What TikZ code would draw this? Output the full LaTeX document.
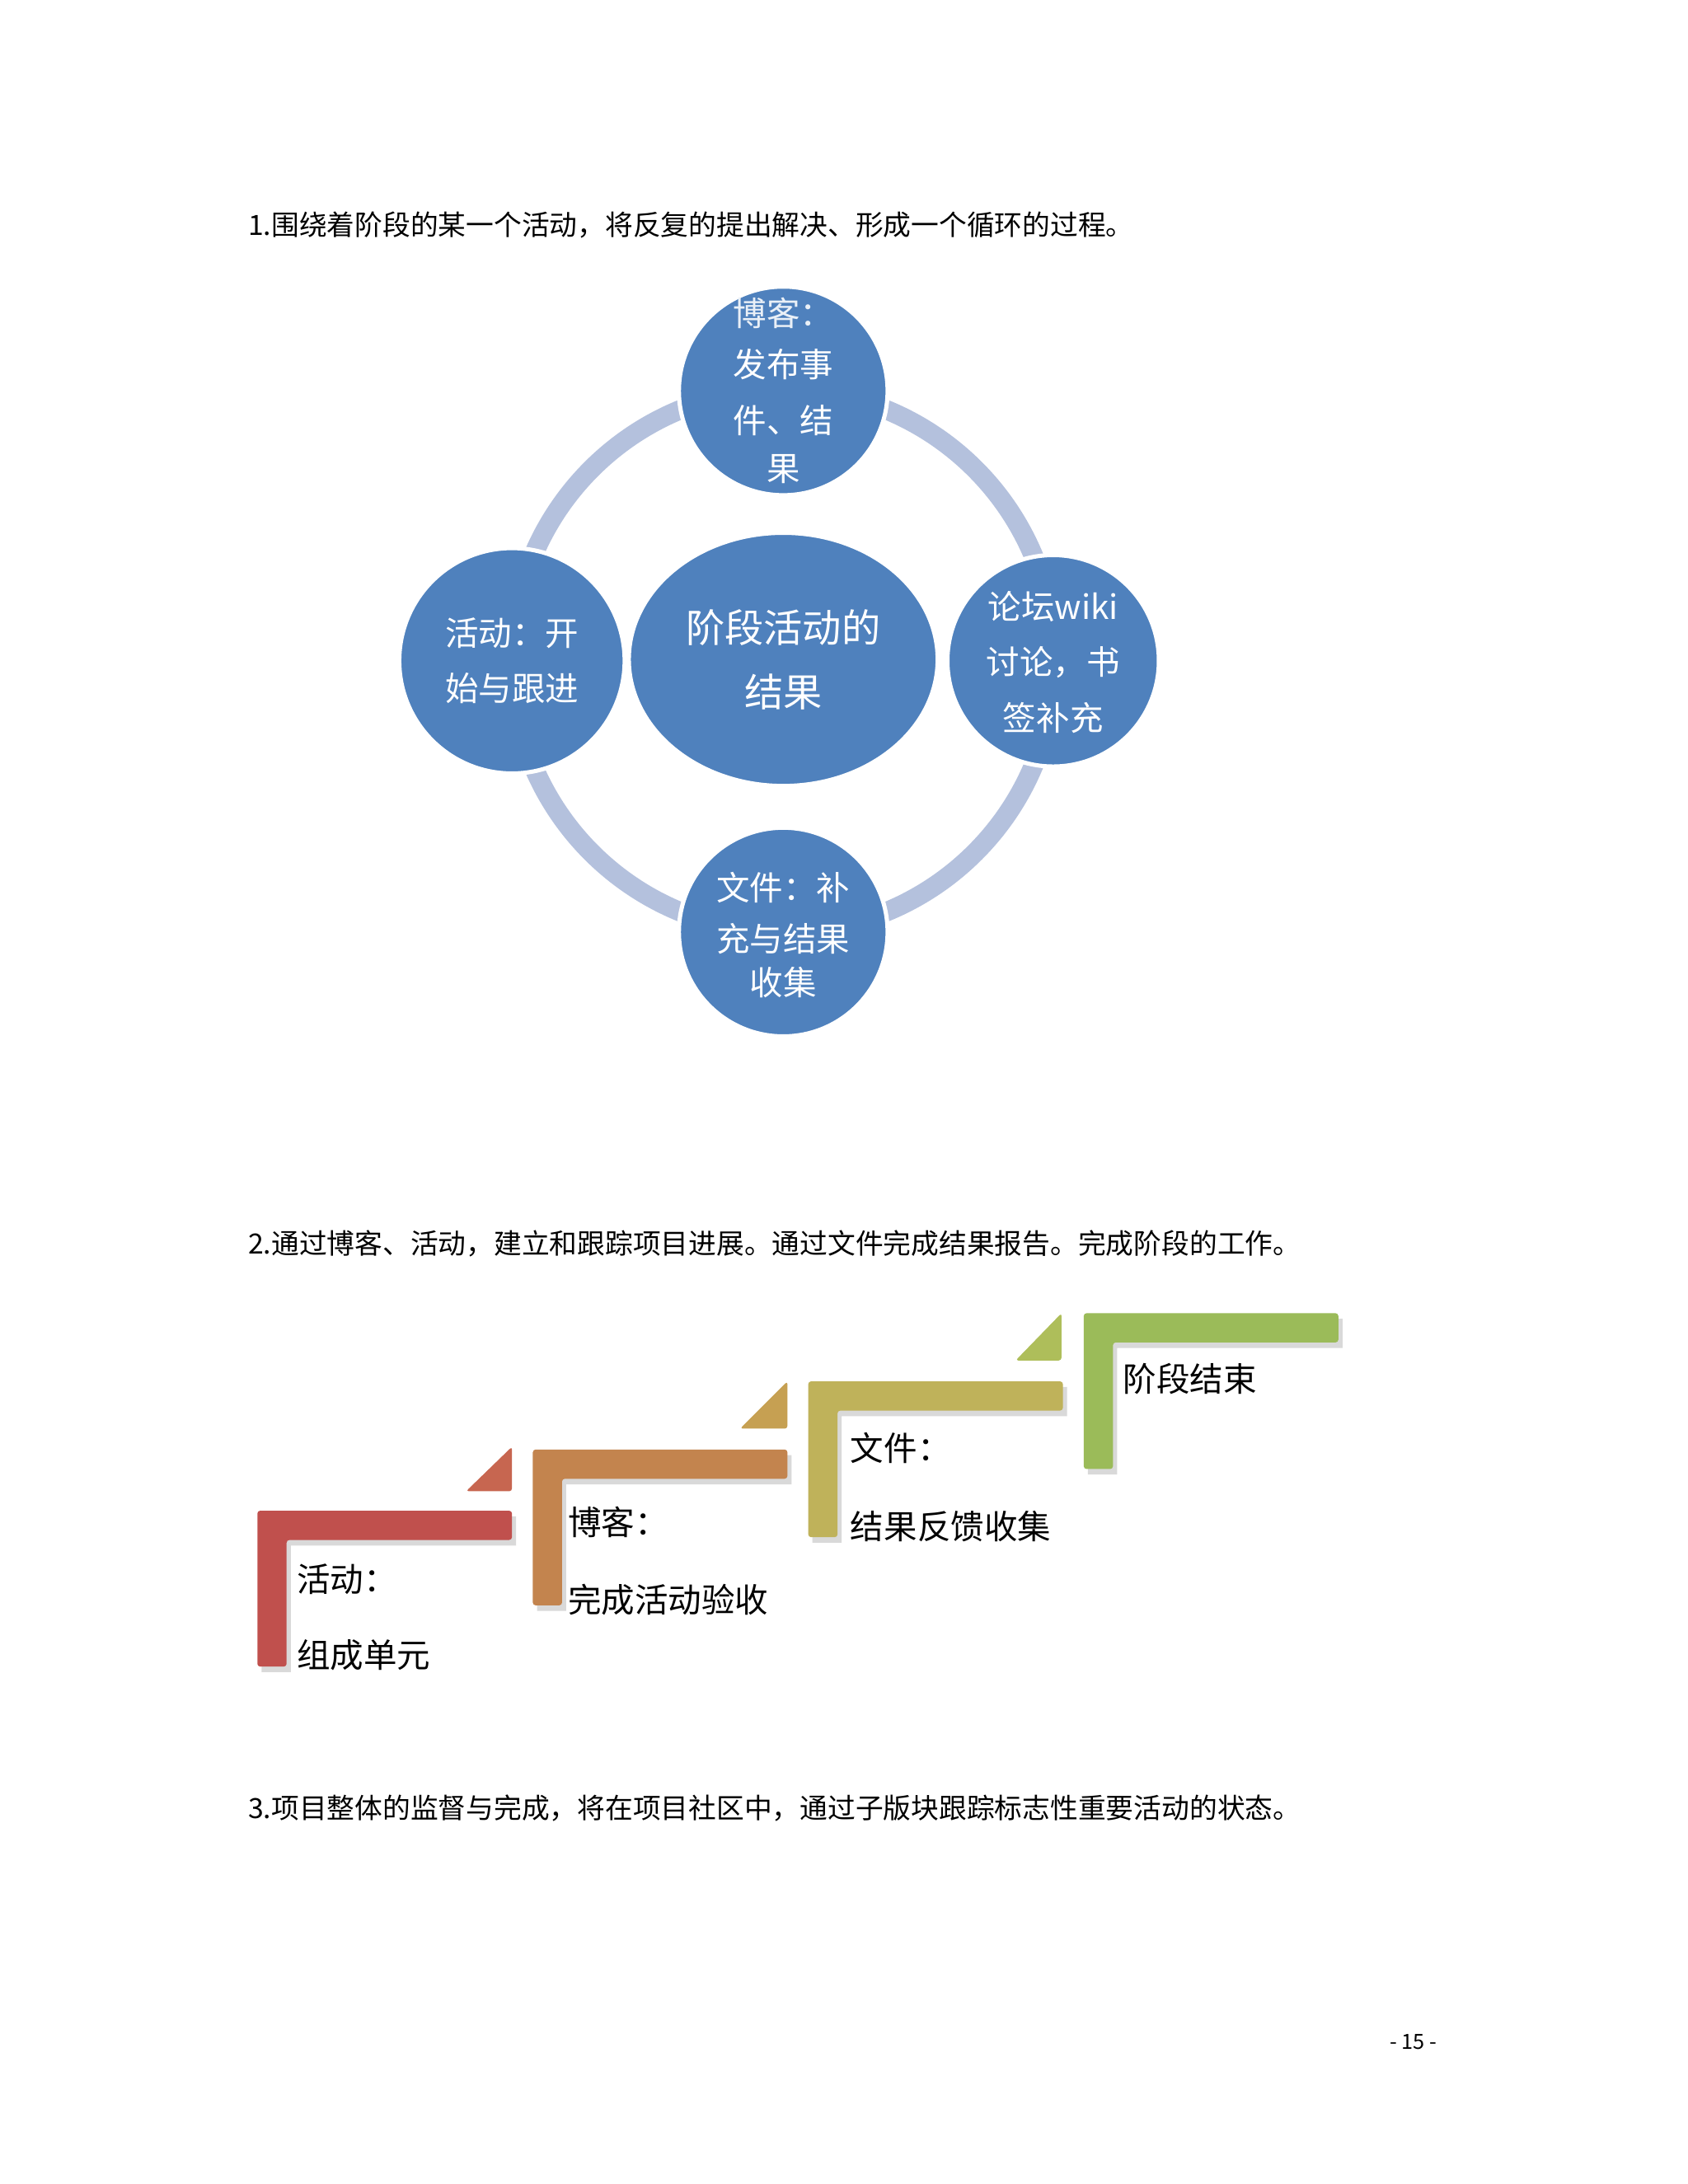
\documentclass[tikz,border=0pt]{standalone}
\usepackage{fontspec}
\usetikzlibrary{shapes.geometric}
\setmainfont{Noto Sans CJK SC}
\begin{document}
\begin{tikzpicture}[x=0.5pt,y=-0.5pt]
\definecolor{cblue}{HTML}{4F81BD}
\definecolor{cring}{HTML}{B4C1DD}
\definecolor{cred}{HTML}{C0504D}
\definecolor{cora}{HTML}{C3844E}
\definecolor{coli}{HTML}{BFB25A}
\definecolor{cgrn}{HTML}{9BBB59}
\definecolor{tred}{HTML}{C76650}
\definecolor{tora}{HTML}{C6A052}
\definecolor{toli}{HTML}{AEBE5A}
\tikzset{
 hdr/.style={anchor=west,inner sep=0pt,font=\fontsize{10}{12}\selectfont},
 bub/.style={circle,fill=cblue,draw=white,line width=1.5pt,minimum size=#1,inner sep=0pt,text=white,align=center},
 btxt/.style={text=white,align=center,font=\fontsize{12}{20}\selectfont,inner sep=0pt},
 stxt/.style={anchor=west,inner sep=0pt,font=\fontsize{12}{14}\selectfont}
}
\useasboundingbox (0,0) rectangle (1213,1570);
\fill[white] (0,0) rectangle (1213,1570);
\node[hdr] (h1) at (178,162) {1.围绕着阶段的某一个活动，将反复的提出解决、形成一个循环的过程。};
% ring
\draw[cring,line width=7pt] (563,475) circle[radius=195];
\node[ellipse,fill=cblue,draw=white,line width=1.5pt,minimum width=111pt,minimum height=91pt,inner sep=0pt] (c) at (563,474) {};
\node[bub=75pt] (t) at (563,281) {};
\node[bub=81pt] (l) at (368,475) {};
\node[bub=76pt] (r) at (757,475) {};
\node[bub=75pt] (b) at (563,670) {};
\node[btxt,font=\fontsize{14}{23}\selectfont] at (c) {阶段活动的\\结果};
\node[btxt] at (563,225) {\textcolor{white!88!cblue}{博客：}};
\node[btxt] at (563,262) {发布事};
\node[btxt] at (563,302) {件、结};
\node[btxt] at (563,337) {果};
\node[btxt] at (l) {活动：开\\始与跟进};
\node[btxt] at (757,476) {论坛wiki\\讨论，书\\签补充};
\node[btxt] at (563,638) {文件：补};
\node[btxt] at (563,675) {充与结果};
\node[btxt] at (563,706) {收集};
\node[hdr] (h2) at (178,894) {2.通过博客、活动，建立和跟踪项目进展。通过文件完成结果报告。完成阶段的工作。};
% steps
\foreach \x/\y/\c in {185/1086/cred,383/1042/cora,581/993/coli,779/944/cgrn}{
  \fill[black!15] (\x+3,\y+4) -- (\x+186,\y+4) -- (\x+186,\y+25) -- (\x+24,\y+25) -- (\x+24,\y+116) -- (\x+3,\y+116) -- cycle;
  \fill[\c,rounded corners=1pt] (\x,\y) -- (\x+183,\y) -- (\x+183,\y+21) -- (\x+21,\y+21) -- (\x+21,\y+112) -- (\x,\y+112) -- cycle;
}
\fill[tred,rounded corners=1pt] (368,1040) -- (368,1072) -- (335,1072) -- cycle;
\fill[tora,rounded corners=1pt] (566,993) -- (566,1027) -- (532,1027) -- cycle;
\fill[toli,rounded corners=1pt] (763,944) -- (763,978) -- (730,978) -- cycle;
\node[stxt] at (213,1135) {活动：};
\node[stxt] at (213,1190) {组成单元};
\node[stxt] at (408,1094) {博客：};
\node[stxt] at (408,1150) {完成活动验收};
\node[stxt] at (611,1041) {文件：};
\node[stxt] at (611,1097) {结果反馈收集};
\node[stxt] at (807,991) {阶段结束};
\node[hdr] (h3) at (178,1300) {3.项目整体的监督与完成，将在项目社区中，通过子版块跟踪标志性重要活动的状态。};
\node[inner sep=0pt,font=\fontsize{7.5}{9}\selectfont] at (1016,1468) {- 15 -};
\end{tikzpicture}
\end{document}
